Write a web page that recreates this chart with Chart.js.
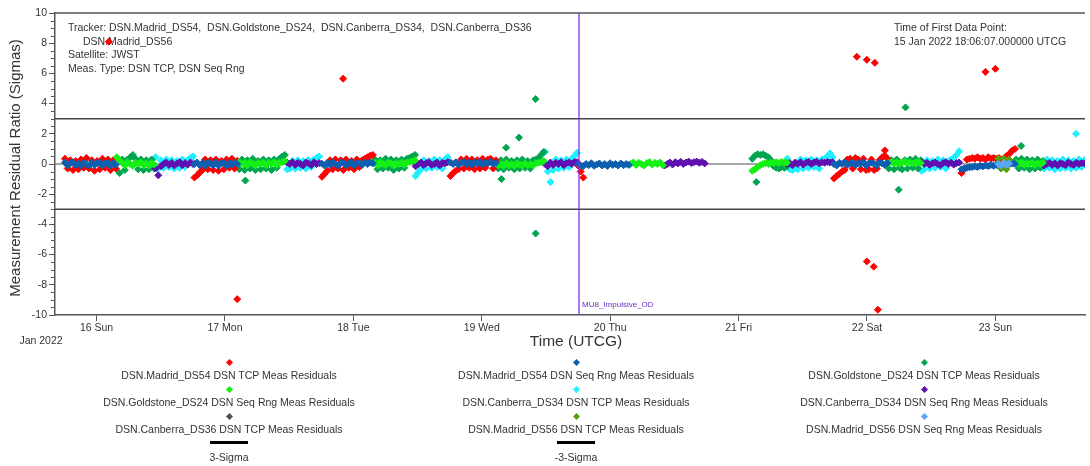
<!DOCTYPE html>
<html>
<head>
<meta charset="utf-8">
<script src="https://cdn.jsdelivr.net/npm/chart.js@4.4.1/dist/chart.umd.min.js"></script>
<style>
  html, body { margin: 0; padding: 0; background: #fff; }
  #wrap { position: relative; width: 1090px; height: 466px; font-family: "Liberation Sans", Arial, sans-serif; color: #333; }
  #residuals { position: absolute; left: 0; top: 0; }
  .mark { position: absolute; width: 5px; height: 5px; transform: rotate(45deg); }
  .txt { position: absolute; width: 400px; margin-left: -200px; text-align: center; font-size: 10.5px; line-height: 14px; white-space: nowrap; }
  .bar { position: absolute; width: 38px; height: 3px; margin-left: -19px; background: #000; }
</style>
</head>
<body>
<div id="wrap">
  <canvas id="residuals" width="1090" height="466"></canvas>
  <div id="legend"></div>
</div>
<script>
// x values are days from 16 Jan 2022 00:00 UTCG
function t(day, h, m) { return (day - 16) + h / 24 + m / 1440; }
const SAMPLE = 30 / 1440; // plotted samples are 30 min apart inside a pass

const dayLabels = ['16 Sun', '17 Mon', '18 Tue', '19 Wed', '20 Thu', '21 Fri', '22 Sat', '23 Sun'];
const yTicks = [-10, -8, -6, -4, -2, 0, 2, 4, 6, 8, 10];
const sigmaLevels = [3, -3];
const sigmaLabels = ['3-Sigma', '-3-Sigma'];
const xMin = t(15, 16, 14);
const xMax = t(23, 16, 45);
const eventTime = t(19, 18, 10);
const eventName = 'MU8_Impulsive_OD';

// [pass start, residual ratio per sample]
const madridTcpPasses = [
  [t(15, 18, 6), [0.35, -0.3, 0.25, -0.4, 0.2, -0.35, 0.3, -0.25, 0.4, -0.3, 0.25, -0.45, 0.2, -0.35, 0.35, -0.25, 0.3, -0.4, 0.25, -0.3]],
  [t(16, 18, 18), [-0.9, -0.75, -0.55, -0.4, 0.3, -0.35, 0.25, -0.4, 0.3, -0.45, 0.2, -0.35, 0.3, -0.25, 0.35, -0.3, 0.2]],
  [t(17, 18, 8), [-0.85, -0.65, -0.45, 0.25, -0.35, 0.3, -0.3, 0.25, -0.4, 0.3, -0.25, 0.2, -0.35, 0.3, -0.2, 0.25, 0.35, 0.45, 0.55, 0.6]],
  [t(18, 18, 9), [-0.8, -0.6, -0.45, -0.35, 0.3, -0.3, 0.35, -0.25, 0.3, -0.35, 0.25, -0.3, 0.35, -0.25, 0.3, 0.35, -0.3, 0.25]],
  [t(19, 17, 59), [-0.1, -0.5, -0.9]],
  [t(21, 17, 50), [-0.95, -0.8, -0.65, -0.5, -0.4, 0.3, 0.35, -0.3, 0.4, 0.3, -0.35, 0.35, -0.4, -0.35, 0.3, -0.4, -0.3, 0.25, 0.45, 0.55, 0.35]],
  [t(22, 17, 40), [-0.6, -0.35, 0.3, 0.35, 0.4, 0.35, 0.45, 0.35, 0.4, 0.3, 0.45, 0.35, 0.4, 0.35, 0.4, 0.3, 0.4, 0.55, 0.7, 0.9, 1.0]]
];
const madridTcpOutliers = [
  [t(16, 2, 17), 8.1], [t(17, 2, 18), -8.95], [t(17, 22, 5), 5.65],
  [t(21, 22, 6), 7.1], [t(21, 23, 58), 6.9], [t(21, 23, 58), -6.45], [t(22, 1, 16), -6.8],
  [t(22, 1, 28), 6.7], [t(22, 2, 2), -9.65], [t(22, 3, 20), 0.9],
  [t(22, 22, 8), 6.1], [t(23, 0, 0), 6.3]
];
const madridRngPasses = [
  [t(15, 18, 6), [0.1, -0.1, 0.05, 0.12, -0.08, 0.03, -0.12, 0.08, 0, -0.1, 0.1, -0.06, 0.04, 0.12, -0.1, 0.02, 0.08, -0.12, 0.06, -0.05]],
  [t(16, 18, 18), [0, 0.1, -0.08, 0.06, -0.12, 0.1, 0.02, -0.08, 0.12, -0.1, 0.04, 0.08, -0.12, 0.06, -0.05, 0.1, 0]],
  [t(17, 18, 8), [0.02, -0.1, 0.08, -0.06, 0.12, 0, -0.12, 0.06, 0.1, -0.08, 0.02, 0.12, -0.1, 0.04, 0.08, -0.06, 0.1, 0, 0.12, 0.04]],
  [t(18, 18, 9), [0.1, 0, 0.12, -0.05, 0.08, 0.15, 0, 0.1, -0.06, 0.12, 0.04, 0.14, -0.03, 0.1, 0.05, 0.15, 0, 0.08]],
  [t(19, 17, 59), [0, -0.1, -0.14, 0, -0.08, 0.05, -0.12, -0.04, 0.04, -0.1, 0, -0.13, 0.05, -0.06, 0, -0.1, 0.04, -0.08, 0, -0.06]],
  [t(21, 17, 50), [0, -0.1, 0.08, 0, 0.12, -0.06, 0.04, 0.1, -0.08, 0.06, 0, 0.12, -0.1, 0.04, 0.08, 0, -0.08, 0.1, 0.04, -0.06, 0.06]],
  [t(22, 17, 40), [-0.35, -0.3, -0.25, -0.22, -0.2, -0.15, -0.2, -0.12, -0.16, -0.1, -0.14, -0.06, -0.12, -0.06, -0.04, -0.08, 0, -0.04, 0, 0.04, 0]]
];
const goldstoneTcpPasses = [
  [t(16, 3, 47), [0.4, -0.6, 0.3, -0.4, 0.3, 0.45, 0.6, 0.35, -0.35, 0.3, -0.4, 0.25, -0.35, 0.3, -0.3]],
  [t(17, 2, 41), [-0.35, 0.3, -0.4, 0.25, -0.3, 0.35, -0.4, 0.2, -0.35, 0.3, -0.3, 0.25, -0.4, 0.3, -0.25, 0.35, 0.5, 0.6]],
  [t(18, 4, 1), [0.3, -0.35, 0.25, -0.3, 0.35, -0.25, 0.3, -0.4, 0.25, -0.3, 0.3, -0.25, 0.35, 0.4, 0.5, 0.6]],
  [t(19, 3, 5), [-0.3, 0.25, -0.35, 0.3, -0.25, 0.2, -0.35, 0.25, -0.3, 0.3, -0.25, 0.2, -0.3, 0.25, 0.3, 0.4, 0.6, 0.8]],
  [t(21, 2, 34), [0.35, 0.55, 0.65, 0.6, 0.65, 0.55, 0.45, 0.25, -0.15, -0.25, -0.3, -0.2, -0.25, -0.15]],
  [t(22, 4, 4), [-0.3, 0.25, -0.35, 0.3, -0.25, -0.35, 0.25, -0.3, 0.3, -0.25, 0.35, -0.3, 0.25]],
  [t(23, 3, 53), [0.3, -0.3, 0.35, -0.25, 0.3, -0.35, 0.25, -0.3, 0.3, -0.25, 0.2]]
];
const goldstoneTcpOutliers = [
  [t(17, 3, 49), -1.1], [t(19, 3, 40), -1.0], [t(19, 4, 33), 1.08], [t(19, 6, 58), 1.75],
  [t(19, 10, 4), 4.3], [t(19, 10, 4), -4.6], [t(21, 3, 19), -1.2], [t(22, 5, 55), -1.7],
  [t(22, 7, 12), 3.75], [t(23, 4, 49), 1.2]
];
const goldstoneRngPasses = [
  [t(16, 3, 47), [0.45, 0.25, 0.1, -0.1, 0.12, 0, -0.12, 0.08, 0, 0.12, -0.08, 0.05, -0.1, 0.06, -0.04]],
  [t(17, 2, 41), [0.12, 0, 0.08, -0.1, 0.12, 0.04, -0.1, 0.06, 0, 0.1, -0.08, 0.08, 0, 0.12, -0.06, 0.08, 0.12, 0.2]],
  [t(18, 4, 1), [0.08, -0.1, 0.12, 0, -0.08, 0.1, 0.04, -0.1, 0.06, 0, 0.1, -0.06, 0.1, 0.12, 0.18, 0.25]],
  [t(19, 3, 5), [-0.08, 0, -0.14, 0.06, -0.1, 0, -0.12, 0.06, -0.05, -0.12, 0.04, -0.08, 0, -0.1, 0.05, 0.08, 0.12, 0.2]],
  [t(20, 3, 51), [0, 0.1, -0.06, 0.08, 0, -0.1, 0.06, 0.12, -0.04, 0.08, 0, 0.1, -0.08]],
  [t(21, 2, 34), [-0.45, -0.35, -0.2, -0.08, 0, 0.06, 0, 0.1, 0.05, 0.12, 0.06, 0.14, 0.08, 0.1]],
  [t(22, 4, 4), [0.06, 0.14, 0.04, 0.12, 0, 0.1, 0.15, 0.06, 0.12, 0.03, 0.1, 0.14, 0.06]],
  [t(23, 3, 53), [0.08, 0, 0.1, -0.06, 0.06, 0, 0.08, -0.08, 0.05, 0, 0.08]]
];
const canberra34TcpPasses = [
  [t(16, 11, 2), [0.45, -0.3, 0.25, -0.25, 0.3, -0.2, 0.25, -0.3, 0.2, -0.25, 0.3, -0.2, 0.25, 0.4, 0.5]],
  [t(17, 11, 37), [-0.35, -0.3, 0.2, -0.3, 0.25, -0.25, 0.2, -0.3, 0.25, -0.2, 0.3, 0.4, 0.5]],
  [t(18, 11, 38), [-0.8, -0.55, -0.35, 0.25, -0.3, 0.2, -0.25, 0.3, -0.2, 0.25, -0.3, 0.3, 0.45]],
  [t(19, 11, 50), [0.8, -0.5, -1.2, -0.4, 0.3, -0.3, 0.25, -0.25, 0.3, -0.2, 0.35, 0.55, 0.75]],
  [t(21, 9, 5), [0.35, -0.35, -0.4, -0.3, -0.35, 0.3, -0.3, 0.25, -0.25, 0.3, -0.2, 0.25, -0.3, 0.3, 0.35, 0.5, 0.7, 0.45]],
  [t(22, 10, 13), [-0.45, -0.35, 0.25, -0.3, 0.2, -0.25, 0.3, -0.2, 0.25, -0.3, 0.2, 0.3, 0.4, 0.6, 0.85]],
  [t(23, 9, 7), [-0.3, 0.3, -0.25, 0.25, -0.35, 0.2, -0.3, 0.3, -0.25, 0.25, -0.3, 0.2, -0.25, 0.3, -0.2, 0.25]]
];
const canberra34TcpOutliers = [[t(23, 15, 4), 2.0]];
const canberra34RngPasses = [
  [t(16, 11, 2), [-0.3, -0.75, -0.15, 0, 0.1, -0.06, 0.08, -0.1, 0.04, 0.12, -0.08, 0.06, -0.04, 0.1, 0]],
  [t(17, 11, 37), [0.1, 0, 0.12, -0.06, 0.08, 0, -0.1, 0.1, 0.04, -0.08, 0.12, 0, 0.06]],
  [t(18, 11, 38), [-0.15, 0, 0.1, -0.08, 0.06, 0.12, -0.06, 0, 0.1, -0.1, 0.08, 0.04, 0.12]],
  [t(19, 11, 50), [0, -0.15, 0.1, -0.06, 0.08, 0, 0.12, -0.08, 0.06, 0.1, 0, 0.14, 0.12]],
  [t(20, 10, 10), [-0.1, 0, 0.1, -0.04, 0.12, 0.04, 0.15, 0, 0.1, 0.16, 0.06, 0.12, 0.16, 0.08, 0.14, 0.04]],
  [t(21, 9, 5), [0, 0.06, -0.08, 0.1, 0, 0.12, -0.04, 0.08, 0.14, 0, 0.1, 0.15, 0.04, 0.12, 0.08, 0.14, 0.1, 0.12]],
  [t(22, 10, 13), [0.1, 0, 0.08, -0.06, 0.04, 0.1, 0, -0.08, 0.06, 0.12, 0, 0.08, -0.04, 0.06, 0.1]],
  [t(23, 9, 7), [-0.1, 0, 0.08, -0.06, 0.04, -0.1, 0.06, 0, -0.08, 0.1, 0, -0.06, 0.08, 0, 0.06, 0.04]]
];
const canberra36TcpPasses = [];
const madrid56TcpPasses = [[t(23, 0, 33), [0.35, -0.3, 0.35, -0.35, 0.3]]];
const madrid56RngPasses = [[t(23, 0, 33), [0, -0.1, 0.08, -0.06, 0.04]]];

const series = [
  { label: 'DSN.Madrid_DS54 DSN TCP Meas Residuals', color: '#ff0000', passes: madridTcpPasses, extra: madridTcpOutliers, order: 3 },
  { label: 'DSN.Madrid_DS54 DSN Seq Rng Meas Residuals', color: '#0f5fb0', passes: madridRngPasses, extra: [], order: 2 },
  { label: 'DSN.Goldstone_DS24 DSN TCP Meas Residuals', color: '#00a550', passes: goldstoneTcpPasses, extra: goldstoneTcpOutliers, order: 3 },
  { label: 'DSN.Goldstone_DS24 DSN Seq Rng Meas Residuals', color: '#14f014', passes: goldstoneRngPasses, extra: [], order: 2 },
  { label: 'DSN.Canberra_DS34 DSN TCP Meas Residuals', color: '#1ef0ff', passes: canberra34TcpPasses, extra: canberra34TcpOutliers, order: 3 },
  { label: 'DSN.Canberra_DS34 DSN Seq Rng Meas Residuals', color: '#6010b0', passes: canberra34RngPasses, extra: [], order: 2 },
  { label: 'DSN.Canberra_DS36 DSN TCP Meas Residuals', color: '#505050', passes: canberra36TcpPasses, extra: [], order: 3 },
  { label: 'DSN.Madrid_DS56 DSN TCP Meas Residuals', color: '#58a00f', passes: madrid56TcpPasses, extra: [], order: 1 },
  { label: 'DSN.Madrid_DS56 DSN Seq Rng Meas Residuals', color: '#5aa8f5', passes: madrid56RngPasses, extra: [], order: 0 }
];

function toPoints(passes, extra) {
  const pts = [];
  passes.forEach(([start, vals]) => {
    vals.forEach((v, i) => pts.push({ x: start + i * SAMPLE, y: v }));
  });
  extra.forEach(([x, y]) => pts.push({ x, y }));
  return pts;
}

const datasets = series.map(s => ({
  type: 'scatter',
  label: s.label,
  data: toPoints(s.passes, s.extra),
  pointStyle: 'rectRot',
  pointRadius: 3.5,
  borderWidth: 1,
  backgroundColor: s.color,
  borderColor: s.color,
  order: s.order
}));
// zero line and +-3 sigma lines
datasets.push({
  type: 'line', label: 'zero', data: [{ x: xMin, y: 0 }, { x: xMax, y: 0 }],
  borderColor: '#8a8a8a', borderWidth: 1.5, pointRadius: 0, order: 20
});
sigmaLevels.forEach((lvl, i) => datasets.push({
  type: 'line', label: sigmaLabels[i], data: [{ x: xMin, y: lvl }, { x: xMax, y: lvl }],
  borderColor: '#444', borderWidth: 1.5, pointRadius: 0, order: 20
}));

const font = '"Liberation Sans", Arial, sans-serif';

const overlay = {
  id: 'overlay',
  beforeDatasetsDraw(chart) {
    const ctx = chart.ctx;
    ctx.save();
    ctx.fillStyle = '#333';
    ctx.font = '10.5px ' + font;
    ctx.textBaseline = 'middle';
    ctx.fillText('Tracker: DSN.Madrid_DS54,  DSN.Goldstone_DS24,  DSN.Canberra_DS34,  DSN.Canberra_DS36', 68, 28);
    ctx.fillText('DSN.Madrid_DS56', 83, 42);
    ctx.fillText('Satellite: JWST', 68, 55);
    ctx.fillText('Meas. Type: DSN TCP, DSN Seq Rng', 68, 69);
    ctx.fillText('Time of First Data Point:', 894, 28);
    ctx.fillText('15 Jan 2022 18:06:07.000000 UTCG', 894, 42);
    ctx.restore();
  },
  afterDraw(chart) {
    const { ctx, chartArea: a, scales: { x, y } } = chart;
    ctx.save();
    // top frame line
    ctx.strokeStyle = '#555';
    ctx.lineWidth = 1.5;
    ctx.beginPath();
    ctx.moveTo(a.left, a.top);
    ctx.lineTo(a.right, a.top);
    ctx.stroke();
    // minor y ticks
    ctx.lineWidth = 1;
    for (let v = -10; v <= 10; v += 0.5) {
      if (v % 2 === 0) continue;
      const py = Math.round(y.getPixelForValue(v)) + 0.5;
      ctx.beginPath();
      ctx.moveTo(a.left - 4, py);
      ctx.lineTo(a.left, py);
      ctx.stroke();
    }
    // event marker
    const ex = Math.round(x.getPixelForValue(eventTime));
    ctx.strokeStyle = '#8030e8';
    ctx.lineWidth = 1.3;
    ctx.beginPath();
    ctx.moveTo(ex, a.top);
    ctx.lineTo(ex, a.bottom);
    ctx.stroke();
    ctx.fillStyle = '#6a2ec8';
    ctx.font = '8px ' + font;
    ctx.textBaseline = 'middle';
    ctx.fillText(eventName, ex + 3, a.bottom - 10);
    // axis titles and date
    ctx.fillStyle = '#333';
    ctx.font = '15.5px ' + font;
    ctx.textAlign = 'center';
    ctx.fillText('Time (UTCG)', 576, 342);
    ctx.font = '10.5px ' + font;
    ctx.fillText('Jan 2022', 41, 341);
    ctx.translate(16, 168);
    ctx.rotate(-Math.PI / 2);
    ctx.font = '15px ' + font;
    ctx.fillText('Measurement Residual Ratio (Sigmas)', 0, 0);
    ctx.restore();
  }
};

new Chart(document.getElementById('residuals'), {
  type: 'scatter',
  data: { datasets },
  options: {
    responsive: false,
    animation: false,
    events: [],
    devicePixelRatio: 1,
    layout: { padding: { top: 13, right: 1, left: 0, bottom: 0 } },
    plugins: { legend: { display: false }, tooltip: { enabled: false } },
    scales: {
      x: {
        type: 'linear',
        min: xMin,
        max: xMax,
        afterBuildTicks: s => { s.ticks = dayLabels.map((_, i) => ({ value: i })); },
        afterFit: s => { s.height = 151; },
        ticks: {
          callback: v => dayLabels[v] || '',
          color: '#333',
          font: { family: font, size: 10.5 },
          padding: 1,
          maxRotation: 0,
          autoSkip: false
        },
        grid: { drawOnChartArea: false, tickLength: 6, color: '#555' },
        border: { color: '#555', width: 1.5 }
      },
      y: {
        min: -10,
        max: 10,
        afterBuildTicks: s => { s.ticks = yTicks.map(v => ({ value: v })); },
        afterFit: s => { s.width = 55; },
        ticks: { color: '#333', font: { family: font, size: 10.5 }, padding: 2 },
        grid: { drawOnChartArea: false, tickLength: 6, color: '#555' },
        border: { color: '#555', width: 1.5 }
      }
    }
  },
  plugins: [overlay]
});

// legend: marker above centred text, three columns
const legendCols = [229, 576, 924];
const legendRows = [362, 389, 416];
const legend = document.getElementById('legend');
series.forEach((s, i) => {
  const cx = legendCols[i % 3], my = legendRows[Math.floor(i / 3)];
  const m = document.createElement('div');
  m.className = 'mark';
  m.style.left = (cx - 2.5) + 'px';
  m.style.top = (my - 2.5) + 'px';
  m.style.background = s.color;
  legend.appendChild(m);
  const tx = document.createElement('div');
  tx.className = 'txt';
  tx.style.left = cx + 'px';
  tx.style.top = (my + 6) + 'px';
  tx.textContent = s.label;
  legend.appendChild(tx);
});
sigmaLabels.forEach((lab, i) => {
  const cx = legendCols[i];
  const b = document.createElement('div');
  b.className = 'bar';
  b.style.left = cx + 'px';
  b.style.top = '441px';
  legend.appendChild(b);
  const tx = document.createElement('div');
  tx.className = 'txt';
  tx.style.left = cx + 'px';
  tx.style.top = '450px';
  tx.textContent = lab;
  legend.appendChild(tx);
});
</script>
</body>
</html>
